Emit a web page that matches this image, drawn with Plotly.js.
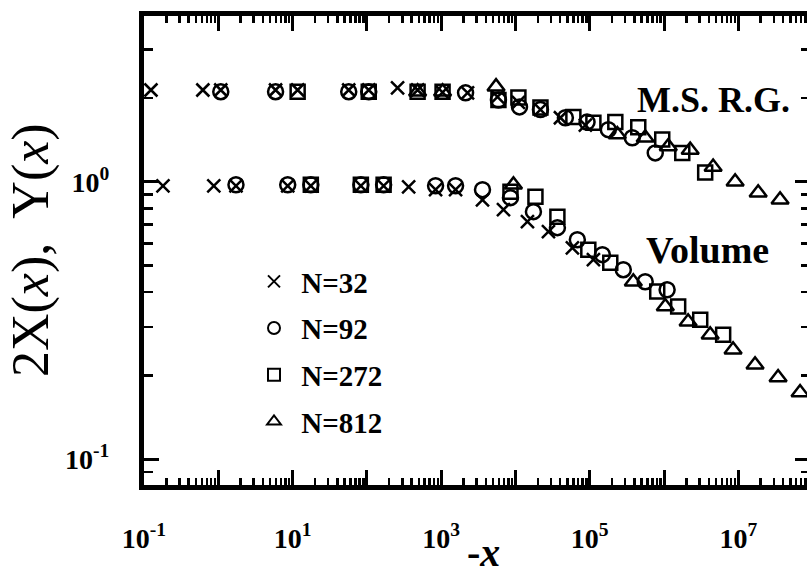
<!DOCTYPE html>
<html>
<head>
<meta charset="utf-8">
<script src="https://cdn.plot.ly/plotly-3.0.1.min.js"></script>
<style>
html,body{margin:0;padding:0;overflow:hidden;background:#fff;}
#chart{width:818px;height:578px;}
</style>
</head>
<body>
<div id="chart"></div>
<script>
// ---------------- data ----------------
// -x values and 2X(x) ("M.S. R.G.") values
var msrg32_x = [0.124, 0.62, 1.08, 5.9, 11.7, 57, 106, 259, 482, 1045, 2265, 5730, 10960, 21700, 40300, 87300];
var msrg32_y = [2.14, 2.14, 2.14, 2.14, 2.14, 2.14, 2.14, 2.18, 2.14, 2.10, 2.09, 2.02, 1.93, 1.82, 1.70, 1.60];
var msrg92_x = [1.08, 5.9, 57, 106, 2130, 5900, 11330, 21700, 47000, 92000, 178000, 374000, 762000];
var msrg92_y = [2.11, 2.11, 2.11, 2.11, 2.09, 1.97, 1.86, 1.82, 1.70, 1.64, 1.54, 1.44, 1.27];
var msrg272_x = [11.7, 106, 482, 1045, 5900, 10960, 21700, 60200, 112000, 221000, 450000, 946000, 1760000, 3580000];
var msrg272_y = [2.11, 2.11, 2.11, 2.11, 1.97, 2.01, 1.85, 1.71, 1.63, 1.64, 1.57, 1.42, 1.27, 1.08];
var msrg812_x = [482, 1045, 5480, 235000, 558000, 1140000, 2250000, 4580000, 9060000, 18500000, 36500000];
var msrg812_y = [2.11, 2.11, 2.20, 1.48, 1.44, 1.34, 1.30, 1.13, 1.00, 0.913, 0.861];
// -x values and Y(x) ("Volume") values
var vol32_x = [0.18, 0.87, 1.73, 8.6, 17.6, 83, 168, 365, 841, 1563, 3600, 6900, 14500, 27800, 58400, 112000];
var vol32_y = [0.967, 0.967, 0.967, 0.967, 0.967, 0.967, 0.967, 0.959, 0.936, 0.936, 0.861, 0.793, 0.718, 0.661, 0.578, 0.524];
var vol92_x = [1.73, 8.6, 17.6, 83, 168, 841, 1563, 3600, 8570, 17460, 36700, 68100, 148000, 283000, 558000, 1100000];
var vol92_y = [0.975, 0.975, 0.975, 0.975, 0.975, 0.967, 0.967, 0.936, 0.876, 0.780, 0.683, 0.618, 0.546, 0.482, 0.436, 0.408];
var vol272_x = [17.6, 83, 168, 8570, 18580, 36700, 95700, 189000, 810000, 1550000, 3070000, 6250000];
var vol272_y = [0.975, 0.975, 0.975, 0.920, 0.883, 0.748, 0.569, 0.511, 0.402, 0.355, 0.318, 0.281];
var vol812_x = [9400, 386000, 1040000, 2110000, 4180000, 8500000, 16800000, 34300000, 67800000];
var vol812_y = [0.975, 0.436, 0.355, 0.313, 0.281, 0.248, 0.219, 0.197, 0.174];

var seriesNames = ['N=32', 'N=92', 'N=272', 'N=812'];
var xTickVals = [0.1, 1, 10, 100, 1e3, 1e4, 1e5, 1e6, 1e7, 1e8];
var xTickText = ['10<sup>-1</sup>', '', '10<sup>1</sup>', '', '10<sup>3</sup>', '', '10<sup>5</sup>', '', '10<sup>7</sup>', ''];
var yTickVals = [0.1, 1];
var yTickText = ['10<sup>-1</sup>', '10<sup>0</sup>'];

// ---------------- layout helpers ----------------
var PL = 144, PR = 810, PT = 16, PB = 485;
function px(x){ return (x - PL) / (PR - PL); }
function py(y){ return 1 - (y - PT) / (PB - PT); }
function minorVals(lo, hi){
  var v = [];
  for (var k = lo; k <= hi; k++) for (var m = 2; m <= 9; m++) v.push(m * Math.pow(10, k));
  return v;
}
var serif = 'Liberation Serif, Times New Roman, serif';
var symbols = ['x-thin-open', 'circle-open', 'square-open', 'triangle-up-open'];
var sizes = [13, 15, 14, 15];
var xs = [[msrg32_x, vol32_x], [msrg92_x, vol92_x], [msrg272_x, vol272_x], [msrg812_x, vol812_x]];
var ys = [[msrg32_y, vol32_y], [msrg92_y, vol92_y], [msrg272_y, vol272_y], [msrg812_y, vol812_y]];

var traces = seriesNames.map(function(n, i){
  return {
    type: 'scatter', mode: 'markers', name: '\u00a0' + n,
    legendgroup: 'g' + i,
    x: xs[i][0].concat(xs[i][1]),
    y: ys[i][0].concat(ys[i][1]),
    cliponaxis: false,
    marker: {symbol: symbols[i], size: sizes[i], color: '#000',
             line: {color: '#000', width: 2.5}}
  };
});

var axisCommon = {
  type: 'log', showline: true, linecolor: '#000', linewidth: 5, mirror: 'ticks',
  ticks: 'inside', tickcolor: '#000', tickwidth: 3, ticklen: 15,
  showgrid: false, zeroline: false, tickmode: 'array',
  tickfont: {family: serif, size: 28, color: '#000', weight: 700},
  ticklabelstandoff: 24
};

var layout = {
  width: 818, height: 578,
  margin: {l: PL, r: 818 - PR, t: PT, b: 578 - PB},
  paper_bgcolor: '#fff', plot_bgcolor: '#fff',
  showlegend: true,
  legend: {x: px(254), y: py(256), xanchor: 'left', yanchor: 'top',
           font: {family: serif, size: 29, color: '#000', weight: 700},
           bgcolor: 'rgba(0,0,0,0)', traceorder: 'grouped', tracegroupgap: 6,
           itemsizing: 'constant'},
  xaxis: Object.assign({}, axisCommon, {
    range: [-1, -1 + (PR - PL) / 74.29],
    tickvals: xTickVals, ticktext: xTickText,
    minor: {tickmode: 'array', tickvals: minorVals(-1, 7), ticks: 'inside',
            ticklen: 7, tickwidth: 2.5, tickcolor: '#000', showgrid: false}
  }),
  yaxis: Object.assign({}, axisCommon, {
    range: [-1.0926, 0.597],
    tickvals: yTickVals, ticktext: yTickText,
    minor: {tickmode: 'array', tickvals: minorVals(-2, 0), ticks: 'inside',
            ticklen: 9, tickwidth: 2.5, tickcolor: '#000', showgrid: false}
  }),
  annotations: [
    {xref: 'paper', yref: 'paper', x: px(713), y: py(100), xanchor: 'center', yanchor: 'middle',
     showarrow: false, text: 'M.S. R.G.', font: {family: serif, size: 36, color: '#000', weight: 700}},
    {xref: 'paper', yref: 'paper', x: px(707), y: py(250), xanchor: 'center', yanchor: 'middle',
     showarrow: false, text: 'Volume', font: {family: serif, size: 38, color: '#000', weight: 700}},
    {xref: 'paper', yref: 'paper', x: px(31), y: py(250), xanchor: 'center', yanchor: 'middle',
     showarrow: false, textangle: -90,
     text: '2X(<i>x</i>),\u00a0 Y(<i>x</i>)', font: {family: serif, size: 52, color: '#000'}},
    {xref: 'paper', yref: 'paper', x: px(483), y: py(552), xanchor: 'center', yanchor: 'middle',
     showarrow: false, text: '<b>-<i>x</i></b>', font: {family: serif, size: 40, color: '#000'}}
  ]
};

Plotly.newPlot('chart', traces, layout, {displayModeBar: false, staticPlot: true});
</script>
</body>
</html>
